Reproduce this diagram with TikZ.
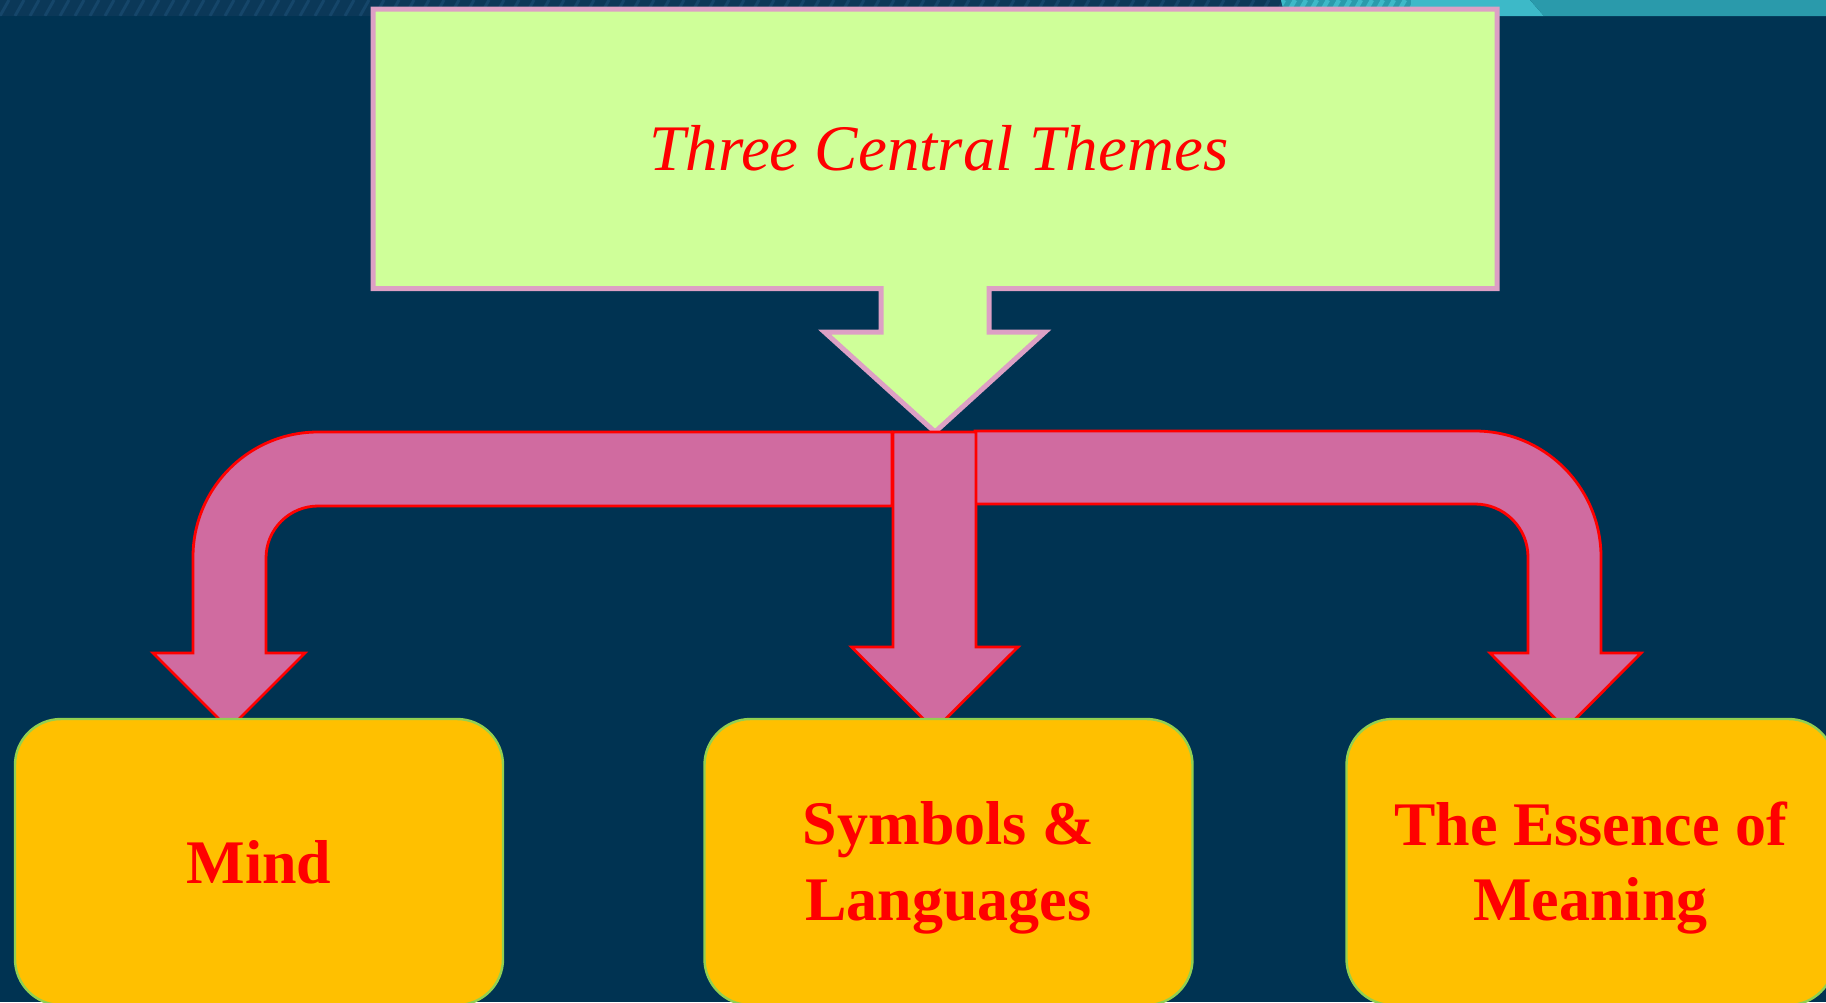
\documentclass[tikz,border=0pt]{standalone}
\usepackage{fontspec}
\setmainfont{Liberation Serif}
\definecolor{bg}{HTML}{003352}
\definecolor{calloutfill}{HTML}{CFFF99}
\definecolor{calloutline}{HTML}{DDA0C4}
\definecolor{arrowfill}{HTML}{D06BA0}
\definecolor{boxfill}{HTML}{FFC000}
\definecolor{boxline}{HTML}{92D050}
\definecolor{stripdark}{HTML}{0B3858}
\definecolor{stripline}{HTML}{15466A}
\definecolor{stripteal}{HTML}{2A9AAB}
\definecolor{stripcyan}{HTML}{3DB9C8}
\tikzset{
  callout/.style={fill=calloutfill, draw=calloutline, line width=2.5pt, line join=miter},
  pinkarrow/.style={fill=arrowfill, draw=red, line width=1.4pt, line join=miter},
  themebox/.style={rectangle, rounded corners=23pt, fill=boxfill, draw=boxline,
    line width=1.2pt, minimum width=244pt, minimum height=143pt, inner sep=0pt, outer sep=0pt},
  themetext/.style={text=red, align=center, font=\fontsize{31}{38}\selectfont\bfseries, inner sep=0pt},
  titletext/.style={text=red, font=\fontsize{32.5}{38}\selectfont\itshape, inner sep=0pt}
}
\begin{document}
\begin{tikzpicture}[x=0.5pt,y=-0.5pt]
\useasboundingbox (0,0) rectangle (1826,1002);
\clip (0,0) rectangle (1826,1002);
% background
\fill[bg] (0,0) rectangle (1826,1002);
% top strip
\fill[stripdark] (0,0) rectangle (1283,16);
\begin{scope}
  \clip (0,0) -- (1281,0) -- (1285,16) -- (0,16) -- cycle;
  \foreach \x in {0,15,...,1290} \draw[stripline, line width=1.5pt] (\x,16) -- (\x+9,0);
\end{scope}
\fill[stripteal] (1281,0) -- (1412,0) -- (1412,16) -- (1285,16) -- cycle;
\begin{scope}
  \clip (1281,0) -- (1412,0) -- (1412,16) -- (1285,16) -- cycle;
  \foreach \x in {1275,1286,...,1420} \draw[stripcyan, line width=2.2pt] (\x,16) -- (\x+9,0);
\end{scope}
\fill[stripcyan] (1411,0) -- (1530,0) -- (1544,16) -- (1411,16) -- cycle;
\fill[stripteal] (1530,0) -- (1826,0) -- (1826,16) -- (1544,16) -- cycle;
% callout
\draw[callout] (373,9) -- (1497,9) -- (1497,288.5) -- (989,288.5) -- (989,332)
  -- (1045,332) -- (935,432) -- (824.5,332) -- (881,332) -- (881,288.5)
  -- (373,288.5) -- cycle;
\node[titletext, anchor=base] (title) at (939,170) {Three Central Themes};
% bent arrows
\draw[pinkarrow] (892,432) -- (318,432) arc[start angle=270, end angle=180, radius=125]
  -- (193,653) -- (153,653) -- (229,729) -- (305,653) -- (266,653) -- (266,558)
  arc[start angle=180, end angle=270, radius=52] -- (892,506) -- cycle;
\draw[pinkarrow] (975,431) -- (1475,431) arc[start angle=270, end angle=360, radius=126]
  -- (1601,653) -- (1641,653) -- (1565.5,729) -- (1490,653) -- (1528,653) -- (1528,557)
  arc[start angle=0, end angle=-90, radius=53] -- (975,504) -- cycle;
\draw[pinkarrow] (893,432) -- (976,432) -- (976,647) -- (1018,647) -- (934.5,730)
  -- (851.5,647) -- (893,647) -- cycle;
% boxes
\node[themebox] (mind) at (259,862) {};
\node[themebox] (symbols) at (948.5,862) {};
\node[themebox] (essence) at (1590.5,862) {};
\node[themetext] (mindtext) at (mind.center) {Mind};
\node[themetext, yshift=-3pt] (symbolstext) at (symbols.center) {Symbols \&\\Languages};
\node[themetext, yshift=-3pt] (essencetext) at (essence.center) {The Essence of\\Meaning};
\end{tikzpicture}
\end{document}
